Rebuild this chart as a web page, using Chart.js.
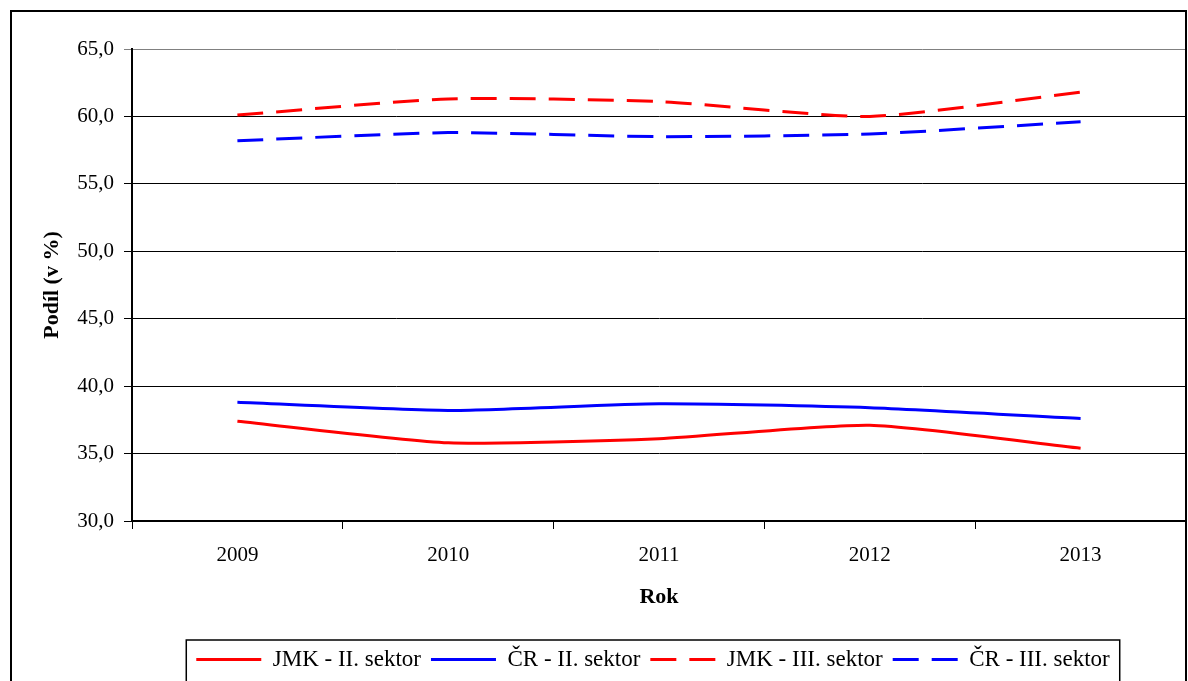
<!DOCTYPE html>
<html>
<head>
<meta charset="utf-8">
<script src="https://cdn.jsdelivr.net/npm/chart.js@4/dist/chart.umd.min.js"></script>
<style>
  body { margin: 0; background: #fff; }
  canvas { display: block; }
</style>
</head>
<body>
<canvas id="chart" width="1188" height="681"></canvas>
<script>
const years = ["2009", "2010", "2011", "2012", "2013"];
const jmkII = [37.4, 35.8, 36.1, 37.1, 35.4];
const crII = [38.8, 38.2, 38.7, 38.4, 37.6];
const jmkIII = [60.1, 61.3, 61.1, 60.0, 61.8];
const crIII = [58.2, 58.8, 58.5, 58.7, 59.6];

const serif = "'Liberation Serif', 'Times New Roman', serif";

// frame around the whole chart and around the legend
const framePlugin = {
    id: "frame",
    afterLayout(chart) {
        // legend sits centred under the plot area, not the canvas
        chart.legend.left += 55;
        chart.legend.right += 55;
    },
    afterDraw(chart) {
        const ctx = chart.ctx;
        ctx.save();
        ctx.strokeStyle = "#000";
        ctx.lineWidth = 2;
        ctx.strokeRect(11, 11, 1175, 700);
        const boxes = chart.legend.legendHitBoxes;
        if (boxes && boxes.length) {
            const l = Math.min(...boxes.map(b => b.left)) - 10;
            const r = Math.max(...boxes.map(b => b.left + b.width)) + 10;
            const t = Math.min(...boxes.map(b => b.top)) - 8;
            ctx.lineWidth = 1.5;
            ctx.strokeRect(l, t, r - l, 60);
        }
        ctx.restore();
    }
};

function line(label, data, color, dashed) {
    return {
        label: label,
        data: data,
        borderColor: color,
        backgroundColor: color,
        borderWidth: 3,
        borderDash: dashed ? [26, 13] : [],
        pointRadius: 0,
        tension: 0.2,
        fill: false
    };
}

new Chart(document.getElementById("chart").getContext("2d"), {
    type: "line",
    data: {
        labels: years,
        datasets: [
            line("JMK - II. sektor", jmkII, "#ff0000", false),
            line("ČR - II. sektor", crII, "#0000ff", false),
            line("JMK - III. sektor", jmkIII, "#ff0000", true),
            line("ČR - III. sektor", crIII, "#0000ff", true)
        ]
    },
    options: {
        responsive: false,
        animation: false,
        layout: { padding: { left: 10, right: 2, top: 49, bottom: 0 } },
        plugins: {
            tooltip: { enabled: false },
            legend: {
                position: "bottom",
                labels: {
                    usePointStyle: true,
                    pointStyle: "line",
                    pointStyleWidth: 65,
                    boxHeight: 3,
                    padding: 10,
                    color: "#000",
                    font: { family: serif, size: 23 },
                    generateLabels: chart => {
                        const items = Chart.defaults.plugins.legend.labels.generateLabels(chart);
                        items.forEach(it => {
                            const ds = chart.data.datasets[it.datasetIndex];
                            it.lineDash = ds.borderDash;
                            it.lineWidth = 3;
                            it.strokeStyle = ds.borderColor;
                        });
                        return items;
                    }
                }
            }
        },
        scales: {
            x: {
                offset: true,
                afterFit: s => { s.height = 117; },
                grid: {
                    offset: true,
                    drawOnChartArea: false,
                    drawTicks: true,
                    tickLength: 8,
                    color: "#000"
                },
                border: { color: "#000", width: 2 },
                ticks: {
                    color: "#000",
                    padding: 14,
                    font: { family: serif, size: 21 }
                },
                title: {
                    display: true,
                    text: "Rok",
                    color: "#000",
                    padding: { top: 4, bottom: 27 },
                    font: { family: serif, size: 22, weight: "bold" }
                }
            },
            y: {
                min: 30,
                max: 65,
                afterFit: s => { s.width = 122; },
                grid: {
                    color: c => (c.tick && c.tick.value === 65 ? "#808080" : "#000"),
                    tickLength: 8
                },
                border: { color: "#000", width: 2 },
                ticks: {
                    stepSize: 5,
                    color: "#000",
                    padding: 10,
                    font: { family: serif, size: 21 },
                    callback: v => v.toFixed(1).replace(".", ",")
                },
                title: {
                    display: true,
                    text: "Podíl (v %)",
                    color: "#000",
                    padding: { top: 29 },
                    font: { family: serif, size: 22, weight: "bold" }
                }
            }
        }
    },
    plugins: [framePlugin]
});
</script>
</body>
</html>
